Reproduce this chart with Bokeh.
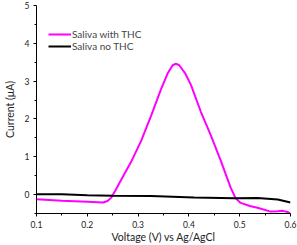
from bokeh.plotting import figure
from bokeh.models import Range1d, FixedTicker, Legend, LegendItem
from bokeh.embed import file_html
from bokeh.resources import INLINE

# Data
x_thc = [0.10, 0.15, 0.20, 0.231, 0.240, 0.247, 0.255, 0.267, 0.286, 0.306, 0.3255, 0.345, 0.358,
         0.368, 0.3745, 0.381, 0.392, 0.404, 0.4235, 0.443, 0.4627, 0.482, 0.492, 0.502, 0.52, 0.535,
         0.561, 0.575, 0.585, 0.594, 0.60]
y_thc = [-0.125, -0.16, -0.19, -0.21, -0.17, -0.08, 0.10, 0.40, 0.86, 1.42, 2.08, 2.78, 3.20,
         3.42, 3.46, 3.42, 3.22, 2.9, 2.19, 1.57, 0.9, 0.19, -0.10, -0.22, -0.30, -0.35,
         -0.45, -0.44, -0.43, -0.46, -0.5]

x_no = [0.10, 0.15, 0.20, 0.25, 0.3255, 0.41, 0.49, 0.535, 0.575, 0.60]
y_no = [0.01, 0.01, -0.02, -0.03, -0.04, -0.08, -0.10, -0.09, -0.13, -0.21]

x_ticks = [0.1, 0.2, 0.3, 0.4, 0.5, 0.6]
x_minor = [0.15, 0.25, 0.35, 0.45, 0.55]
y_ticks = [0, 1, 2, 3, 4, 5]
y_minor = [-0.5, 0.5, 1.5, 2.5, 3.5, 4.5]

FONT = "Lato"

p = figure(width=297, height=245, output_backend="svg", toolbar_location=None,
           x_range=Range1d(0.1, 0.6), y_range=Range1d(-0.5, 5),
           min_border_left=4, min_border_right=7, min_border_top=5, min_border_bottom=0)

p.outline_line_color = None
p.grid.visible = False
p.background_fill_color = "white"
p.border_fill_color = "white"

r1 = p.line(x_thc, y_thc, line_color="#FF00FF", line_width=2)
r2 = p.line(x_no, y_no, line_color="black", line_width=2)

for ax in (p.xaxis[0], p.yaxis[0]):
    ax.axis_line_color = "black"
    ax.axis_line_width = 1
    ax.major_tick_out = 3
    ax.major_tick_in = 0
    ax.minor_tick_out = 2
    ax.minor_tick_in = 0
    ax.major_label_text_font = FONT
    ax.major_label_text_font_size = "8.5px"
    ax.major_label_text_color = "#222222"
    ax.axis_label_text_font = FONT
    ax.axis_label_text_font_size = "10.5px"
    ax.axis_label_text_font_style = "normal"
    ax.axis_label_text_color = "#222222"
    ax.major_label_standoff = 4

p.xaxis[0].ticker = FixedTicker(ticks=x_ticks, minor_ticks=x_minor)
p.yaxis[0].ticker = FixedTicker(ticks=y_ticks, minor_ticks=y_minor)
p.xaxis[0].axis_label = "Voltage (V) vs Ag/AgCl"
p.yaxis[0].axis_label = "Current (\u03bcA)"
p.xaxis[0].axis_label_standoff = 0
p.yaxis[0].axis_label_standoff = 6

legend_common = dict(border_line_color=None, background_fill_alpha=0,
                     label_text_font=FONT, label_text_font_size="10px",
                     glyph_width=23, glyph_height=10, spacing=0, padding=0,
                     label_standoff=1, margin=0, label_height=10)
leg1 = Legend(items=[LegendItem(label="Saliva with THC", renderers=[r1])],
              location=(12, 173), **legend_common)
leg2 = Legend(items=[LegendItem(label="Saliva no THC", renderers=[r2])],
              location=(12, 161), **legend_common)
p.add_layout(leg1)
p.add_layout(leg2)

open("out.html", "w").write(file_html(p, INLINE))
